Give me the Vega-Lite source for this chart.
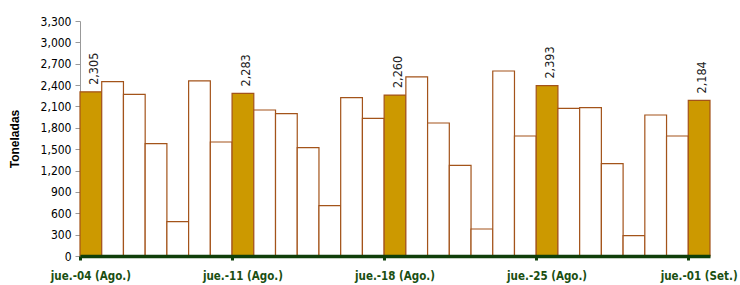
{
  "$schema": "https://vega.github.io/schema/vega-lite/v6.json",
  "width": 630,
  "height": 235,
  "autosize": "none",
  "padding": {"left": 80, "top": 21, "right": 30, "bottom": 29},
  "background": "white",
  "config": {"view": {"stroke": null}},
  "data": {"values": [
    {"dia": "jue.-04 (Ago.)", "t": 2305, "jue": true},
    {"dia": "vie.-05 (Ago.)", "t": 2448, "jue": false},
    {"dia": "sáb.-06 (Ago.)", "t": 2271, "jue": false},
    {"dia": "dom.-07 (Ago.)", "t": 1577, "jue": false},
    {"dia": "lun.-08 (Ago.)", "t": 482, "jue": false},
    {"dia": "mar.-09 (Ago.)", "t": 2458, "jue": false},
    {"dia": "mié.-10 (Ago.)", "t": 1601, "jue": false},
    {"dia": "jue.-11 (Ago.)", "t": 2283, "jue": true},
    {"dia": "vie.-12 (Ago.)", "t": 2050, "jue": false},
    {"dia": "sáb.-13 (Ago.)", "t": 1998, "jue": false},
    {"dia": "dom.-14 (Ago.)", "t": 1521, "jue": false},
    {"dia": "lun.-15 (Ago.)", "t": 706, "jue": false},
    {"dia": "mar.-16 (Ago.)", "t": 2223, "jue": false},
    {"dia": "mié.-17 (Ago.)", "t": 1934, "jue": false},
    {"dia": "jue.-18 (Ago.)", "t": 2260, "jue": true},
    {"dia": "vie.-19 (Ago.)", "t": 2514, "jue": false},
    {"dia": "sáb.-20 (Ago.)", "t": 1868, "jue": false},
    {"dia": "dom.-21 (Ago.)", "t": 1274, "jue": false},
    {"dia": "lun.-22 (Ago.)", "t": 379, "jue": false},
    {"dia": "mar.-23 (Ago.)", "t": 2598, "jue": false},
    {"dia": "mié.-24 (Ago.)", "t": 1685, "jue": false},
    {"dia": "jue.-25 (Ago.)", "t": 2393, "jue": true},
    {"dia": "vie.-26 (Ago.)", "t": 2074, "jue": false},
    {"dia": "sáb.-27 (Ago.)", "t": 2083, "jue": false},
    {"dia": "dom.-28 (Ago.)", "t": 1296, "jue": false},
    {"dia": "lun.-29 (Ago.)", "t": 285, "jue": false},
    {"dia": "mar.-30 (Ago.)", "t": 1980, "jue": false},
    {"dia": "mié.-31 (Ago.)", "t": 1685, "jue": false},
    {"dia": "jue.-01 (Set.)", "t": 2184, "jue": true}
  ]},
  "encoding": {
    "x": {
      "field": "dia", "type": "ordinal", "sort": null,
      "scale": {"paddingInner": 0, "paddingOuter": 0},
      "axis": {
        "title": null,
        "values": ["jue.-04 (Ago.)", "jue.-11 (Ago.)", "jue.-18 (Ago.)", "jue.-25 (Ago.)", "jue.-01 (Set.)"],
        "bandPosition": 0,
        "labelOffset": 0,
        "labelAngle": 0,
        "labelAlign": "center",
        "labelFont": "DejaVu Sans Condensed",
        "labelFontSize": 11.5,
        "labelFontWeight": "bold",
        "labelColor": "#1A4F12",
        "labelPadding": 10,
        "labelOverlap": false,
        "domainColor": "#0F3F0A",
        "domainWidth": 3.5,
        "tickColor": "#0F3F0A",
        "tickWidth": 3,
        "tickSize": 4,
        "zindex": 1
      }
    },
    "y": {
      "field": "t", "type": "quantitative",
      "scale": {"domain": [0, 3300], "nice": false},
      "axis": {
        "title": "Toneladas",
        "titleFont": "Liberation Sans",
        "titleFontSize": 12,
        "titleFontWeight": "bold",
        "titleColor": "#000000",
        "titlePadding": 19,
        "values": [0, 300, 600, 900, 1200, 1500, 1800, 2100, 2400, 2700, 3000, 3300],
        "format": ",.0f",
        "grid": false,
        "labelFont": "DejaVu Sans Condensed",
        "labelFontSize": 12,
        "labelColor": "#000000",
        "labelPadding": 4,
        "domainColor": "#999999",
        "tickColor": "#999999",
        "tickSize": 5
      }
    }
  },
  "layer": [
    {
      "mark": {"type": "bar", "stroke": "#A3531A", "strokeWidth": 1.2},
      "encoding": {
        "fill": {
          "field": "jue", "type": "nominal",
          "scale": {"domain": [true, false], "range": ["#CC9900", "#FFFFFF"]},
          "legend": null
        }
      }
    },
    {
      "transform": [{"filter": "datum.jue"}],
      "mark": {"type": "text", "angle": 270, "align": "left", "baseline": "middle", "dx": 7, "dy": 3, "font": "DejaVu Sans Condensed", "fontSize": 12.5, "color": "#222222"},
      "encoding": {
        "text": {"field": "t", "type": "quantitative", "format": ",.0f"}
      }
    }
  ]
}
